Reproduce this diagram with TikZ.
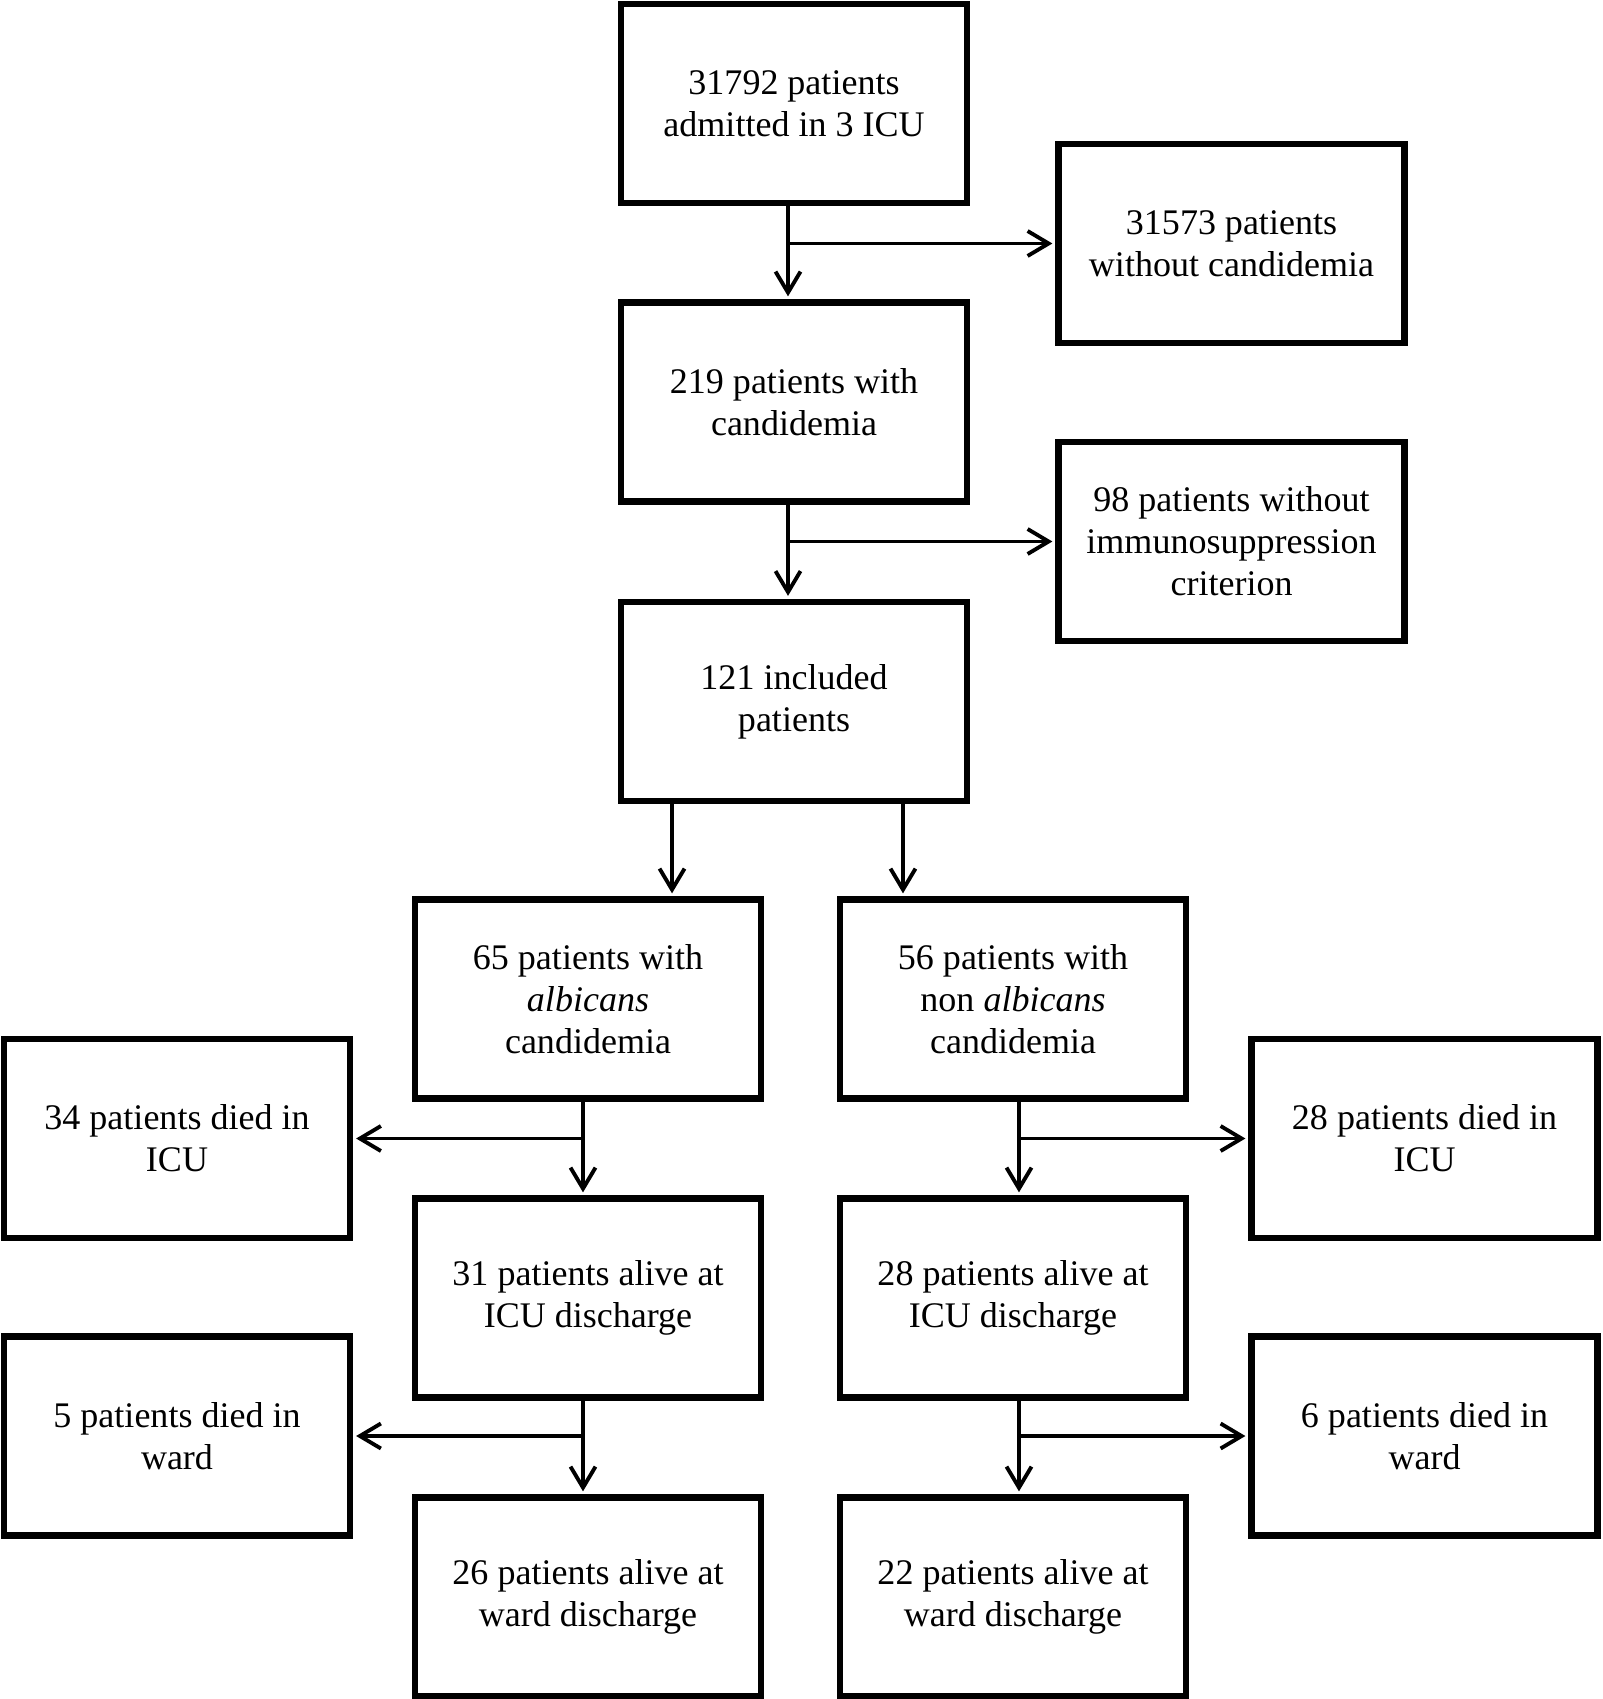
\documentclass[tikz,border=0pt]{standalone}
\usepackage{fontspec}
\setmainfont{Liberation Serif}
\usetikzlibrary{positioning,arrows.meta}

\begin{document}
\begin{tikzpicture}[
  x=0.02cm, y=-0.02cm,
  font=\fontsize{20.5}{24}\selectfont,
  box/.style={rectangle, draw=black, line width=3.6pt,
              minimum width=6.92cm, minimum height=3.98cm, inner sep=2pt, align=center},
  arr/.style={-{Straight Barb[length=0.42cm,width=0.5cm]}, line width=2.2pt, shorten >=1.7pt}
]
\useasboundingbox (0,0) rectangle (1602,1699);

\node[box] (adm)    at ( 794, 103.5){31792 patients \\ admitted in 3 ICU};
\node[box] (nocand) at (1231.5, 243.5){31573 patients \\ without candidemia};
\node[box] (cand)   at ( 794, 402){219 patients with \\ candidemia};
\node[box] (noimm)  at (1231.5, 541.5){98 patients without \\ immunosuppression \\ criterion};
\node[box] (incl)   at ( 794, 701.5){121 included \\ patients};

\node[box] (alb)    at ( 588, 999){65 patients with \\ \textit{albicans} \\ candidemia};
\node[box] (nonalb) at (1013, 999){56 patients with \\ non \textit{albicans} \\ candidemia};

\node[box] (dicuA)  at ( 177, 1138.5){34 patients died in \\ ICU};
\node[box] (dicuB)  at (1424.5, 1138.5){28 patients died in \\ ICU};
\node[box] (aicuA)  at ( 588, 1298){31 patients alive at \\ ICU discharge};
\node[box] (aicuB)  at (1013, 1298){28 patients alive at \\ ICU discharge};

\node[box] (dwardA) at ( 177, 1436){5 patients died in \\ ward};
\node[box] (dwardB) at (1424.5, 1436){6 patients died in \\ ward};
\node[box] (awardA) at ( 588, 1597){26 patients alive at \\ ward discharge};
\node[box] (awardB) at (1013, 1597){22 patients alive at \\ ward discharge};

% main trunk
\coordinate (t1) at ([xshift=-0.12cm]adm.south);
\coordinate (t2) at ([xshift=-0.12cm]cand.south);
\draw[arr] (t1) -- (t1 |- cand.north);
\draw[arr] (t1 |- nocand.west) -- (nocand.west);
\draw[arr] (t2) -- (t2 |- incl.north);
\draw[arr] (t2 |- noimm.west) -- (noimm.west);

% split by species
\coordinate (t3) at ([xshift=-2.44cm]incl.south);
\coordinate (t4) at ([xshift=2.18cm]incl.south);
\draw[arr] (t3) -- (t3 |- alb.north);
\draw[arr] (t4) -- (t4 |- nonalb.north);

% albicans branch
\coordinate (a1) at ([xshift=-0.1cm]alb.south);
\coordinate (a2) at ([xshift=-0.1cm]aicuA.south);
\draw[arr] (a1) -- (a1 |- aicuA.north);
\draw[arr] (a1 |- dicuA.east) -- (dicuA.east);
\draw[arr] (a2) -- (a2 |- awardA.north);
\draw[arr] (a2 |- dwardA.east) -- (dwardA.east);

% non albicans branch
\coordinate (b1) at ([xshift=0.12cm]nonalb.south);
\coordinate (b2) at ([xshift=0.12cm]aicuB.south);
\draw[arr] (b1) -- (b1 |- aicuB.north);
\draw[arr] (b1 |- dicuB.west) -- (dicuB.west);
\draw[arr] (b2) -- (b2 |- awardB.north);
\draw[arr] (b2 |- dwardB.west) -- (dwardB.west);
\end{tikzpicture}
\end{document}
